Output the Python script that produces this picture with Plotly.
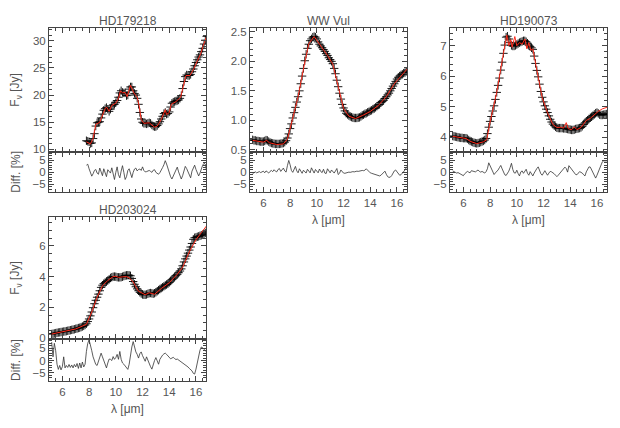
import plotly.graph_objects as go

# wavelength grid of the spectra (micron)
WAVE = [
    5.2, 5.3, 5.4, 5.5, 5.6, 5.7, 5.8, 5.9, 6.0, 6.1,
    6.2, 6.3, 6.4, 6.5, 6.6, 6.7, 6.8, 6.9, 7.0, 7.1,
    7.2, 7.3, 7.4, 7.5, 7.6, 7.7, 7.8, 7.9, 8.0, 8.1,
    8.2, 8.3, 8.4, 8.5, 8.6, 8.7, 8.8, 8.9, 9.0, 9.1,
    9.2, 9.3, 9.4, 9.5, 9.6, 9.7, 9.8, 9.9, 10.0, 10.1,
    10.2, 10.3, 10.4, 10.5, 10.6, 10.7, 10.8, 10.9, 11.0, 11.1,
    11.2, 11.3, 11.4, 11.5, 11.6, 11.7, 11.8, 11.9, 12.0, 12.1,
    12.2, 12.3, 12.4, 12.5, 12.6, 12.7, 12.8, 12.9, 13.0, 13.1,
    13.2, 13.3, 13.4, 13.5, 13.6, 13.7, 13.8, 13.9, 14.0, 14.1,
    14.2, 14.3, 14.4, 14.5, 14.6, 14.7, 14.8, 14.9, 15.0, 15.1,
    15.2, 15.3, 15.4, 15.5, 15.6, 15.7, 15.8, 15.9, 16.0, 16.1,
    16.2, 16.3, 16.4, 16.5, 16.6, 16.7, 16.8,
]

# HD179218 starts at 7.8 micron
HD179218_FLUX = [
    11.6, 11.5, 11.4, 11.1,
    11.2, 12.0, 12.9, 14.3, 14.9, 15.0, 15.1, 15.8, 16.5, 17.2,
    17.5, 17.7, 17.4, 17.0, 17.4, 18.0, 18.2, 18.3, 18.6, 19.0,
    19.6, 20.4, 20.8, 20.5, 20.4, 20.4, 19.9, 20.0, 21.1, 21.5,
    21.5, 20.8, 20.3, 20.0, 19.4, 18.3, 16.8, 15.6, 15.0, 14.8,
    14.8, 14.7, 14.8, 14.9, 14.8, 14.5, 14.3, 14.2, 14.2, 14.4,
    14.7, 15.1, 15.6, 16.1, 16.6, 16.8, 16.5, 16.6, 16.9, 17.8,
    18.5, 18.7, 18.8, 18.9, 19.0, 19.1, 19.4, 19.9, 21.2, 22.5,
    23.4, 23.7, 23.6, 23.6, 23.8, 24.3, 24.8, 25.4, 26.0, 26.5,
    27.0, 27.4, 28.0, 28.6, 29.4, 30.1, 30.8,
]
HD179218_DIFF = [
    3.0, 3.4, 1.5, -0.5,
    -1.6, -0.6, 0.8, 1.2, -0.3, -0.8, 1.8, 0.2, -1.4, 1.5,
    -0.5, -1.8, 1.1, 0.6, -0.3, 1.9, -0.8, -3.0, 0.0, 2.3,
    -1.0, -2.3, 0.5, 2.8, 0.0, -3.0, -1.8, 0.8, 1.5, -0.8,
    -2.2, 0.0, 1.4, 1.8, 0.6, 1.2, 1.4, 0.8, 2.3, 0.8,
    0.2, 0.3, 0.6, 0.8, 0.4, 0.0, 0.9, 1.1, 0.0, -0.5,
    -0.8, -0.1, 0.8, 2.0, 3.2, 4.9, 3.5, 1.5, -0.5, -1.8,
    -2.8, -1.6, 0.0, 1.5, 2.2, 0.2, -1.5, -2.8, -1.4, 0.2,
    2.5, 1.6, 0.0, -1.5, -2.3, 0.5, 2.0, 3.0, 1.2, -0.6,
    -1.5, -0.3, 1.6, 3.0, 3.8, 3.4, 0.5,
]
HD179218_MODEL_WAVE = [7.8, 8.1, 8.3, 8.5, 8.8, 9.0, 9.2, 9.3, 9.5, 9.7, 10.0, 10.2,
                       10.35, 10.5, 10.7, 10.85, 11.1, 11.35, 11.6, 11.75, 11.9, 12.1,
                       12.5, 12.9, 13.1, 13.4, 13.6, 13.7, 13.8, 14.0, 14.15, 14.5,
                       14.85, 15.1, 15.25, 15.55, 15.85, 16.1, 16.35, 16.6, 16.8]
HD179218_MODEL_FLUX = [11.4, 11.0, 12.0, 14.6, 15.0, 16.3, 17.5, 17.8, 17.0, 18.1, 18.5, 19.4,
                       20.8, 20.4, 20.5, 19.7, 21.8, 20.4, 19.6, 18.0, 15.5, 14.8,
                       14.9, 14.1, 14.3, 15.5, 16.5, 17.3, 16.4, 16.8, 18.3, 18.8,
                       19.6, 22.3, 23.6, 23.6, 24.9, 26.3, 27.6, 29.5, 30.8]

WWVUL_FLUX = [
    0.67, 0.66, 0.66, 0.65, 0.65, 0.645, 0.64, 0.64, 0.64, 0.65,
    0.665, 0.66, 0.64, 0.625, 0.615, 0.61, 0.605, 0.60, 0.60, 0.60,
    0.60, 0.605, 0.61, 0.615, 0.63, 0.655, 0.70, 0.77, 0.86, 0.94,
    1.04, 1.13, 1.22, 1.31, 1.40, 1.50, 1.62, 1.75, 1.88, 2.01,
    2.12, 2.22, 2.29, 2.35, 2.38, 2.41, 2.42, 2.41, 2.38, 2.33,
    2.29, 2.26, 2.23, 2.20, 2.17, 2.13, 2.10, 2.06, 2.03, 2.00,
    1.96, 1.88, 1.79, 1.68, 1.57, 1.46, 1.36, 1.27, 1.21, 1.16,
    1.12, 1.10, 1.08, 1.065, 1.055, 1.045, 1.04, 1.04, 1.04, 1.045,
    1.05, 1.065, 1.085, 1.095, 1.11, 1.12, 1.135, 1.145, 1.16, 1.17,
    1.19, 1.20, 1.22, 1.24, 1.26, 1.27, 1.30, 1.32, 1.34, 1.37,
    1.40, 1.43, 1.46, 1.50, 1.54, 1.58, 1.62, 1.66, 1.70, 1.73,
    1.75, 1.77, 1.78, 1.80, 1.81, 1.83, 1.85,
]
WWVUL_DIFF = [
    -0.5, -0.3, 0.2, -0.2, 0.1, 0.3, -0.1, 0.2, 0.5, -0.2,
    0.6, 0.2, -0.3, 0.4, 0.8, 0.3, 1.1, 0.5, 0.2, 1.2,
    1.6, 0.4, 0.9, 1.8, 0.6, 0.1, 2.8, 5.0, 3.2, 0.8,
    0.0, 1.4, 2.5, 0.6, -0.2, 1.5, 0.8, -0.4, 0.9, 0.2,
    -0.3, 1.3, 0.4, -0.2, 1.9, 0.6, -0.3, 1.2, 0.4, -0.2,
    1.4, 0.3, -0.1, 1.3, -0.3, -0.5, 1.5, 0.4, -0.2, 1.0,
    0.1, -0.3, 0.6, 1.6, -0.9, -0.4, 1.0, 0.2, -0.3, -0.4,
    -0.2, -0.1, 0.1, 0.0, 0.2, 0.3, 0.2, 0.4, 0.5, 0.4,
    0.6, 0.7, 0.8, 0.7, 0.9, 1.5, 0.9, 0.1, -0.2, -0.4,
    -0.6, -0.8, -1.1, -1.3, -1.4, -1.5, -1.2, -0.5, 0.3, 0.5,
    -0.8, -1.8, -2.1, -2.0, -1.4, -0.3, 0.6, 1.0, 0.2, -0.9,
    -1.2, -1.0, -0.4, 0.2, 1.0, 2.0, 2.7,
]
WWVUL_MODEL_WAVE = [5.2, 6.0, 6.25, 6.45, 7.0, 7.5, 7.8, 8.2, 8.6, 9.0, 9.4, 9.8, 10.2,
                    10.8, 11.2, 11.6, 12.0, 12.4, 12.9, 13.4, 14.0, 14.6, 15.2, 15.8,
                    16.3, 16.8]
WWVUL_MODEL_FLUX = [0.66, 0.63, 0.66, 0.62, 0.59, 0.60, 0.68, 1.02, 1.40, 1.87, 2.30, 2.42, 2.30,
                    2.10, 1.95, 1.56, 1.20, 1.07, 1.03, 1.08, 1.15, 1.25, 1.40, 1.62,
                    1.76, 1.88]

HD190073_FLUX = [
    4.04, 4.03, 4.02, 4.01, 4.00, 3.99, 3.98, 3.98, 3.97, 3.97,
    3.97, 3.95, 3.91, 3.88, 3.86, 3.84, 3.82, 3.81, 3.80, 3.81,
    3.82, 3.84, 3.86, 3.88, 3.91, 3.96, 4.12, 4.33, 4.52, 4.68,
    4.86, 5.03, 5.24, 5.47, 5.70, 5.94, 6.20, 6.46, 6.75, 7.02,
    7.28, 7.31, 7.22, 7.10, 7.01, 6.99, 6.99, 7.01, 7.04, 7.07,
    7.10, 7.12, 7.14, 7.16, 7.16, 7.13, 7.08, 7.02, 6.97, 6.93,
    6.88, 6.66, 6.42, 6.19, 5.98, 5.74, 5.50, 5.31, 5.16, 5.03,
    4.92, 4.81, 4.70, 4.59, 4.50, 4.43, 4.38, 4.34, 4.31, 4.30,
    4.30, 4.30, 4.30, 4.29, 4.29, 4.28, 4.27, 4.26, 4.25, 4.24,
    4.24, 4.25, 4.27, 4.28, 4.29, 4.30, 4.32, 4.36, 4.42, 4.47,
    4.52, 4.56, 4.60, 4.64, 4.67, 4.71, 4.75, 4.79, 4.81, 4.78,
    4.74, 4.73, 4.73, 4.74, 4.75, 4.76, 4.77,
]
HD190073_DIFF = [
    0.6, 0.4, 0.1, -0.3, -0.1, -0.4, -0.8, -1.2, -1.4, -0.6,
    0.1, 0.4, 0.1, -0.2, 0.7, 0.5, 0.1, 0.2, 0.6, 1.0,
    0.4, 0.1, 0.4, 0.2, -0.3, 0.3, 1.5, 4.0, 2.8, 1.0,
    -0.3, -0.9, -0.2, 0.3, 1.0, 2.0, 2.9, 1.5, -0.2, -1.0,
    -1.3, -0.4, 0.5, 2.0, 3.8, 1.2, -0.2, -0.3, 0.9, -0.5,
    -1.5, 0.2, 0.6, -0.4, 0.5, 1.3, -0.4, -1.2, 0.3, -0.4,
    -1.5, -0.3, 0.8, 1.6, 2.3, 0.4, -0.6, -1.2, -0.4, 0.7,
    -0.3, -1.2, -0.3, 0.4, 0.2, -0.1, -0.6, -1.2, -1.8, -1.2,
    -0.6, 0.0, 0.8, 1.5, 2.2, 1.6, 0.1, 2.8, 2.0, 1.2,
    0.3, -0.3, -0.9, -1.0, -0.3, 0.3, 0.0, -0.3, -1.0, -1.5,
    0.2, 1.6, 2.3, 2.2, 0.9, -0.4, -1.5, -2.4, -1.2, 0.3,
    1.8, 3.2, 4.4, 4.8, 4.9, 4.8, 4.7,
]
HD190073_MODEL_WAVE = [5.2, 6.2, 6.5, 7.0, 7.5, 7.75, 8.0, 8.5, 9.0, 9.25, 9.4, 9.55, 9.65,
                       9.85, 10.0, 10.2, 10.4, 10.6, 10.75, 10.9, 11.05, 11.2, 11.5, 11.9,
                       12.3, 12.7, 13.0, 13.3, 13.5, 13.7, 13.85, 14.1, 14.3, 14.5, 14.8,
                       15.2, 15.5, 15.8, 16.1, 16.4, 16.8]
HD190073_MODEL_FLUX = [4.03, 3.96, 3.87, 3.79, 3.85, 3.92, 4.50, 5.48, 6.75, 7.35, 7.00, 7.20, 6.95,
                       7.30, 7.00, 7.10, 7.05, 7.22, 6.90, 7.10, 6.85, 6.90, 6.20, 5.30,
                       4.80, 4.42, 4.32, 4.33, 4.30, 4.48, 4.28, 4.25, 4.34, 4.25, 4.32,
                       4.55, 4.62, 4.75, 4.85, 4.93, 4.99]

HD203024_FLUX = [
    0.27, 0.29, 0.31, 0.33, 0.35, 0.37, 0.38, 0.40, 0.41, 0.43,
    0.44, 0.46, 0.48, 0.50, 0.52, 0.54, 0.56, 0.58, 0.61, 0.63,
    0.66, 0.68, 0.72, 0.76, 0.80, 0.86, 0.94, 1.08, 1.25, 1.45,
    1.70, 1.98, 2.24, 2.46, 2.66, 2.86, 3.08, 3.30, 3.44, 3.54,
    3.61, 3.68, 3.74, 3.82, 3.91, 3.96, 3.99, 4.00, 3.99, 3.96,
    3.95, 3.95, 3.96, 3.99, 4.03, 4.06, 4.08, 4.09, 4.08, 4.05,
    3.88, 3.68, 3.50, 3.34, 3.20, 3.08, 2.98, 2.90, 2.84, 2.82,
    2.82, 2.84, 2.88, 2.92, 2.93, 2.91, 2.89, 2.92, 2.98, 3.05,
    3.12, 3.19, 3.25, 3.31, 3.37, 3.43, 3.48, 3.53, 3.62, 3.71,
    3.80, 3.89, 3.97, 4.06, 4.15, 4.25, 4.36, 4.50, 4.70, 4.95,
    5.15, 5.33, 5.52, 5.72, 5.92, 6.15, 6.42, 6.52, 6.55, 6.58,
    6.61, 6.65, 6.68, 6.72, 6.77, 6.83, 6.90,
]
HD203024_DIFF = [
    7.5, 1.5, 7.0, 4.0, -1.5, -3.6, -2.0, -3.8, -2.5, 1.5,
    -3.0, -2.0, -2.8, -1.6, -2.8, -1.8, -3.0, -1.6, -2.6, -1.2,
    -3.2, -1.0, -3.0, -0.6, -2.6, -1.5, 3.7, 7.0, 8.4, 6.5,
    4.0, 1.5, -0.3, -1.6, -2.0, -0.5, 1.5, 3.0, 1.5, 0.0,
    -0.8, -3.0, -1.0, 0.6, 0.5, 0.0, 1.6, 0.5, 1.2, 2.5,
    0.5, 3.7, 0.5, -1.0, -1.5, -2.2, -3.0, -3.6, -1.5, 2.5,
    5.5, 7.7, 5.0, 3.5, 2.5, 1.0, 2.8, 3.5, 2.0, 1.0,
    -0.3, 1.5, 0.0, -1.0, -2.5, -3.5, -1.5, 0.0, 1.2, -0.5,
    -1.5, 0.5, 1.5, 2.2, 2.7, 3.0, 2.5, 2.0, 1.2, 0.7,
    1.0, 1.3, 0.8, 0.4, 0.6, 0.2, -0.2, -0.5, -0.9, -1.2,
    -1.5, -2.0, -2.6, -3.2, -3.6, -4.2, -5.2, -5.5, -3.5, -0.5,
    2.5, 4.2, 5.5, 5.2, 4.5, 3.8, 3.5,
]
HD203024_MODEL_WAVE = [5.2, 6.0, 7.0, 7.8, 8.2, 8.6, 9.0, 9.4, 9.8, 10.0, 10.2, 10.5, 10.8,
                       11.0, 11.3, 11.7, 12.2, 12.5, 12.9, 13.4, 14.0, 14.6, 15.0, 15.5,
                       16.0, 16.4, 16.8]
HD203024_MODEL_FLUX = [0.27, 0.41, 0.60, 0.90, 1.70, 2.65, 3.40, 3.75, 4.00, 4.02, 3.95, 3.98, 4.00,
                       3.92, 3.65, 3.05, 2.82, 2.95, 2.85, 3.22, 3.60, 4.15, 4.60, 5.60,
                       6.40, 6.85, 7.30]

AX = "#444444"
TXT = "#555555"
FONT = "Liberation Sans, Arial, sans-serif"
# the page body adds an 8 px offset, so the figure is drawn slightly smaller
OFF = 8
W, H = 620 - OFF, 428 - OFF


def px(x):
    return (x - OFF) / W


def py(y):
    return 1 - (y - OFF) / H


def axis_common(rng, dtick, minor, show_labels, fmt=None):
    ax = dict(
        range=rng, dtick=dtick, tick0=0, showline=True, linecolor=AX, linewidth=1,
        mirror="allticks", ticks="inside", ticklen=5, tickwidth=1, tickcolor=AX,
        showgrid=False, zeroline=False, showticklabels=show_labels,
        tickfont=dict(family=FONT, size=11.5, color=TXT),
        minor=dict(ticks="inside", ticklen=3, tickwidth=1, tickcolor=AX, dtick=minor),
    )
    if fmt:
        ax["tickformat"] = fmt
    return ax


panels = [
    dict(title="HD179218", wave=WAVE[26:], flux=HD179218_FLUX, diff=HD179218_DIFF,
         mwave=HD179218_MODEL_WAVE, mflux=HD179218_MODEL_FLUX,
         left=49, right=206, top=26, mid=152, bottom=193,
         yr=[9.6, 32.4], dt=5, mn=1, fmt=None, xlabels=False, ytitle=True),
    dict(title="WW Vul", wave=WAVE, flux=WWVUL_FLUX, diff=WWVUL_DIFF,
         mwave=WWVUL_MODEL_WAVE, mflux=WWVUL_MODEL_FLUX,
         left=250, right=407, top=26, mid=152, bottom=193,
         yr=[0.47, 2.57], dt=0.5, mn=0.1, fmt=".1f", xlabels=True, ytitle=False),
    dict(title="HD190073", wave=WAVE, flux=HD190073_FLUX, diff=HD190073_DIFF,
         mwave=HD190073_MODEL_WAVE, mflux=HD190073_MODEL_FLUX,
         left=450, right=607, top=26, mid=152, bottom=193,
         yr=[3.53, 7.59], dt=1, mn=0.2, fmt=None, xlabels=True, ytitle=False),
    dict(title="HD203024", wave=WAVE, flux=HD203024_FLUX, diff=HD203024_DIFF,
         mwave=HD203024_MODEL_WAVE, mflux=HD203024_MODEL_FLUX,
         left=49, right=206, top=218, mid=342.7, bottom=385,
         yr=[-0.06, 7.9], dt=2, mn=0.5, fmt=None, xlabels=True, ytitle=True),
]

fig = go.Figure()
layout = {}
annotations = []

for k, p in enumerate(panels):
    im, ir = 2 * k + 1, 2 * k + 2
    xs_m = "x" if im == 1 else f"x{im}"
    ys_m = "y" if im == 1 else f"y{im}"
    xs_r, ys_r = f"x{ir}", f"y{ir}"

    fig.add_trace(go.Scatter(
        x=p["wave"], y=p["flux"], mode="markers", xaxis=xs_m, yaxis=ys_m,
        marker=dict(symbol="cross-thin", size=6, color="black",
                    line=dict(color="black", width=0.9)),
        showlegend=False))
    fig.add_trace(go.Scatter(
        x=p["mwave"], y=p["mflux"], mode="lines", xaxis=xs_m, yaxis=ys_m,
        line=dict(color="#ff2a1a", width=1), showlegend=False))
    fig.add_trace(go.Scatter(
        x=p["wave"], y=p["diff"], mode="lines", xaxis=xs_r, yaxis=ys_r,
        line=dict(color="#333333", width=0.8), showlegend=False))

    xdom = [px(p["left"]), px(p["right"])]
    key_xm = "xaxis" if im == 1 else f"xaxis{im}"
    key_ym = "yaxis" if im == 1 else f"yaxis{im}"
    layout[key_xm] = dict(axis_common([5.0, 16.75], 2, 0.5, False),
                          domain=xdom, anchor=ys_m)
    layout[key_ym] = dict(axis_common(p["yr"], p["dt"], p["mn"], True, p["fmt"]),
                          domain=[py(p["mid"]), py(p["top"])], anchor=xs_m)
    layout[f"xaxis{ir}"] = dict(axis_common([5.0, 16.75], 2, 0.5, p["xlabels"]),
                                domain=xdom, anchor=ys_r)
    layout[f"yaxis{ir}"] = dict(axis_common([-8.2, 8.7], 5, 1, True),
                                domain=[py(p["bottom"]), py(p["mid"])], anchor=xs_r)

    cx = px((p["left"] + p["right"]) / 2)
    annotations.append(dict(text=p["title"], x=cx, y=py(p["top"] - 7), xref="paper",
                            yref="paper", showarrow=False, xanchor="center",
                            yanchor="middle",
                            font=dict(family=FONT, size=12, color=TXT)))
    if p["xlabels"]:
        annotations.append(dict(text="λ [μm]", x=cx, y=py(p["bottom"] + 29),
                                xref="paper", yref="paper", showarrow=False,
                                xanchor="center", yanchor="middle",
                                font=dict(family=FONT, size=12, color=TXT)))
    if p["ytitle"]:
        annotations.append(dict(text="F<sub>ν</sub> [Jy]", x=px(16),
                                y=py((p["top"] + p["mid"]) / 2), xref="paper",
                                yref="paper", showarrow=False, textangle=-90,
                                xanchor="center", yanchor="middle",
                                font=dict(family=FONT, size=12, color=TXT)))
        annotations.append(dict(text="Diff. [%]", x=px(16),
                                y=py((p["mid"] + p["bottom"]) / 2), xref="paper",
                                yref="paper", showarrow=False, textangle=-90,
                                xanchor="center", yanchor="middle",
                                font=dict(family=FONT, size=12, color=TXT)))

fig.update_layout(
    width=W, height=H, margin=dict(l=0, r=0, t=0, b=0),
    paper_bgcolor="white", plot_bgcolor="white",
    annotations=annotations, **layout,
)

fig.write_html("out.html")
